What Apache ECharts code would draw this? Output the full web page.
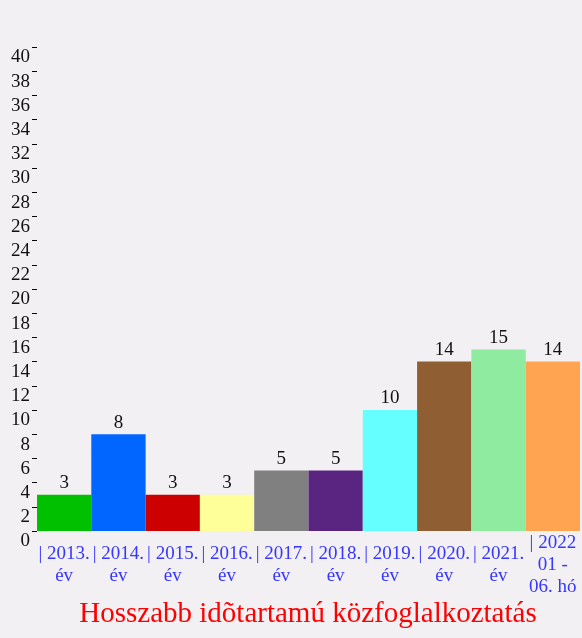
<!DOCTYPE html>
<html>
<head>
<meta charset="utf-8">
<script src="https://cdn.jsdelivr.net/npm/echarts@6/dist/echarts.min.js"></script>
<style>
  html, body { margin: 0; padding: 0; background: #f2f0f2; }
  #chart { width: 582px; height: 638px; }
</style>
</head>
<body>
<div id="chart"></div>
<script>
let categories = ['| 2013.\név', '| 2014.\név', '| 2015.\név', '| 2016.\név', '| 2017.\név',
                  '| 2018.\név', '| 2019.\név', '| 2020.\név', '| 2021.\név', '| 2022\n01 -\n06. hó'];
let values = [3, 8, 3, 3, 5, 5, 10, 14, 15, 14];
let barColors = ['#00c000', '#0066ff', '#cc0000', '#ffff99', '#808080',
                 '#5a2580', '#66ffff', '#8f5f33', '#8eeb9f', '#ffa552'];
let titleMain = 'Hosszabb idõtartamú közfoglalkoztatás';
let titleSecond = 'átlagos létszáma (fõ)';

let chart = echarts.init(document.getElementById('chart'));

let titleFont = {
    color: '#ff0000',
    fontFamily: 'Liberation Serif',
    fontSize: 29,
    fontWeight: 'normal',
    lineHeight: 34
};

let option = {
    backgroundColor: '#f2f0f2',
    animation: false,
    title: {
        text: titleMain,
        subtext: titleSecond,
        left: 303,
        top: 592,
        textAlign: 'center',
        padding: 5,
        itemGap: 6,
        textStyle: titleFont,
        subtextStyle: titleFont
    },
    grid: {
        left: 37,
        right: 2,
        top: 47,
        bottom: 107
    },
    xAxis: {
        type: 'category',
        data: categories,
        axisLine: { show: false },
        axisTick: { show: false },
        axisLabel: {
            interval: 0,
            color: '#3636ff',
            fontFamily: 'Liberation Serif',
            fontSize: 19,
            lineHeight: 22,
            verticalAlign: 'middle',
            margin: 34
        }
    },
    yAxis: {
        type: 'value',
        min: 0,
        max: 40,
        interval: 2,
        splitLine: { show: false },
        axisLine: { show: false },
        axisTick: {
            show: true,
            length: 5,
            lineStyle: { color: '#000' }
        },
        axisLabel: {
            color: '#111',
            fontFamily: 'Liberation Serif',
            fontSize: 19,
            margin: 7,
            verticalAlign: 'top',
            padding: [1, 0, 0, 0]
        }
    },
    series: [{
        type: 'bar',
        barCategoryGap: 0,
        data: values.map((v, i) => ({ value: v, itemStyle: { color: barColors[i] } })),
        label: {
            show: true,
            position: 'top',
            distance: 2,
            color: '#111',
            fontFamily: 'Liberation Serif',
            fontSize: 19
        }
    }]
};
option && chart.setOption(option);
</script>
</body>
</html>
